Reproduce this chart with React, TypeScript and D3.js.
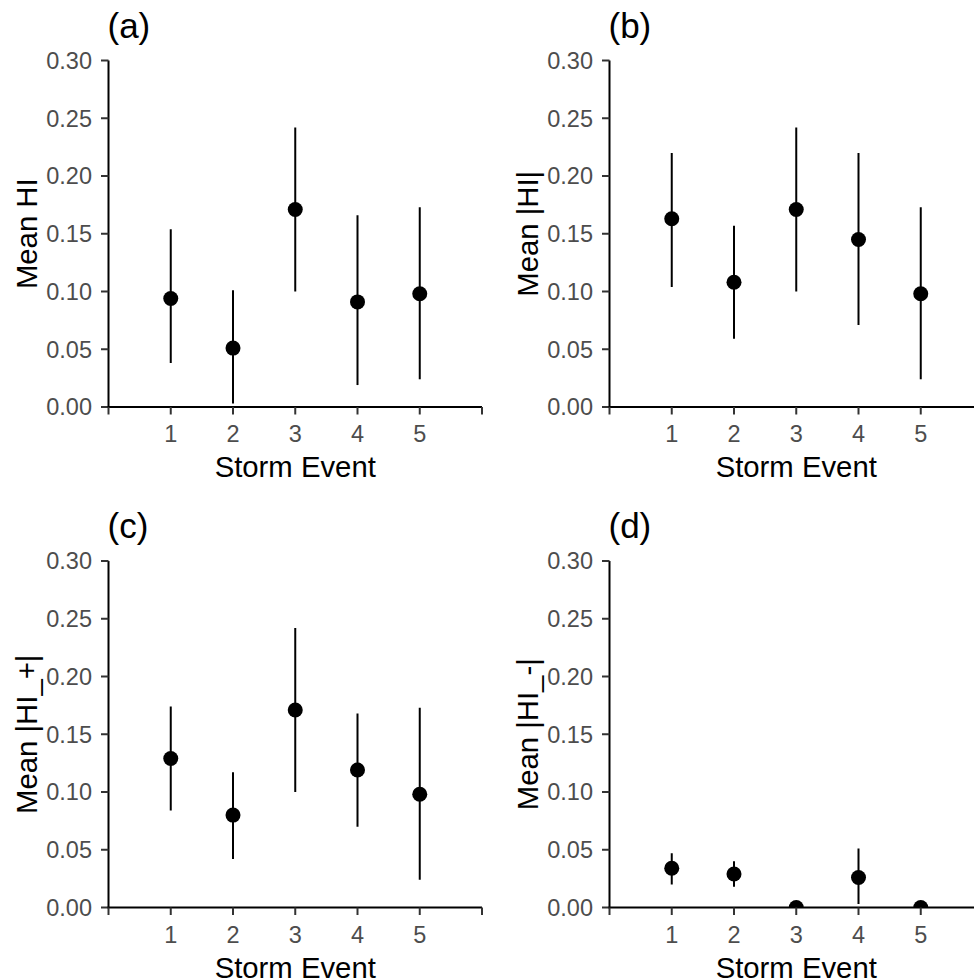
import React from "react";
import * as d3 from "d3";

// Storm events on the x axis
const events = [1, 2, 3, 4, 5];
const xTicks = [0, 1, 2, 3, 4, 5, 6];
const yTicks = [0, 0.05, 0.1, 0.15, 0.2, 0.25, 0.3];

const panelTags = ["(a)", "(b)", "(c)", "(d)"];
const yTitles = ["Mean HI", "Mean |HI|", "Mean |HI_+|", "Mean |HI_-|"];

// (a) Mean HI
const meanHI = [0.094, 0.051, 0.171, 0.091, 0.098];
const lowHI = [0.038, 0.003, 0.1, 0.019, 0.024];
const highHI = [0.154, 0.101, 0.242, 0.166, 0.173];

// (b) Mean |HI|
const meanAbsHI = [0.163, 0.108, 0.171, 0.145, 0.098];
const lowAbsHI = [0.104, 0.059, 0.1, 0.071, 0.024];
const highAbsHI = [0.22, 0.157, 0.242, 0.22, 0.173];

// (c) Mean |HI_+|
const meanPosHI = [0.129, 0.08, 0.171, 0.119, 0.098];
const lowPosHI = [0.084, 0.042, 0.1, 0.07, 0.024];
const highPosHI = [0.174, 0.117, 0.242, 0.168, 0.173];

// (d) Mean |HI_-|
const meanNegHI = [0.034, 0.029, 0.0, 0.026, 0.0];
const lowNegHI = [0.02, 0.018, 0.0, 0.003, 0.0];
const highNegHI = [0.047, 0.04, 0.0, 0.051, 0.0];

const series = [
  { mean: meanHI, low: lowHI, high: highHI },
  { mean: meanAbsHI, low: lowAbsHI, high: highAbsHI },
  { mean: meanPosHI, low: lowPosHI, high: highPosHI },
  { mean: meanNegHI, low: lowNegHI, high: highNegHI },
];

const W = 974;
const H = 978;
const FONT = "'Liberation Sans', Arial, sans-serif";
const panelW = 373.5;
const panelH = 346.5;
const lefts = [108.5, 609.5];
const tops = [60.5, 561];

function Panel({ idx }: { idx: number }) {
  const left = lefts[idx % 2];
  const top = tops[Math.floor(idx / 2)];
  const x = d3.scaleLinear().domain([0, 6]).range([left, left + panelW]);
  const y = d3.scaleLinear().domain([0, 0.3]).range([top + panelH, top]);
  const s = series[idx];
  const clipId = `clip-${idx}`;
  const fmt = d3.format(".2f");
  return (
    <g>
      <clipPath id={clipId}>
        <rect x={left} y={top - 10} width={panelW} height={panelH + 10} />
      </clipPath>
      <text x={left - 1} y={top - 23} fontSize={35} fontFamily={FONT} fill="#000">
        {panelTags[idx]}
      </text>
      <g clipPath={`url(#${clipId})`}>
        {events.map((e, i) => (
          <g key={e}>
            <line
              x1={x(e)}
              x2={x(e)}
              y1={y(s.low[i])}
              y2={y(s.high[i])}
              stroke="#000"
              strokeWidth={2}
            />
            <circle cx={x(e)} cy={y(s.mean[i])} r={7.5} fill="#000" />
          </g>
        ))}
      </g>
      {/* y axis */}
      <line x1={left} x2={left} y1={top} y2={top + panelH} stroke="#000" strokeWidth={2} />
      {yTicks.map((t) => (
        <g key={t}>
          <line x1={left - 7.5} x2={left} y1={y(t)} y2={y(t)} stroke="#333" strokeWidth={2} />
          <text
            x={left - 16.5}
            y={y(t)}
            dy="0.36em"
            textAnchor="end"
            fontSize={23.5}
            fontFamily={FONT}
            fill="#4D4D4D"
          >
            {fmt(t)}
          </text>
        </g>
      ))}
      {/* x axis */}
      <line
        x1={left - 1}
        x2={left + panelW}
        y1={top + panelH}
        y2={top + panelH}
        stroke="#000"
        strokeWidth={2}
      />
      {xTicks.map((t) => (
        <g key={t}>
          <line
            x1={x(t)}
            x2={x(t)}
            y1={top + panelH}
            y2={top + panelH + 7.5}
            stroke="#333"
            strokeWidth={2}
          />
          {t >= 1 && t <= 5 && (
            <text
              x={x(t)}
              y={top + panelH + 35}
              textAnchor="middle"
              fontSize={23.5}
              fontFamily={FONT}
              fill="#4D4D4D"
            >
              {t}
            </text>
          )}
        </g>
      ))}
      <text
        x={(left + left + panelW) / 2}
        y={top + panelH + 70}
        textAnchor="middle"
        fontSize={29.3}
        fontFamily={FONT}
        fill="#000"
      >
        Storm Event
      </text>
      <text
        transform={`translate(${left - 71.5},${top + panelH / 2}) rotate(-90)`}
        textAnchor="middle"
        fontSize={29.3}
        fontFamily={FONT}
        fill="#000"
      >
        {yTitles[idx]}
      </text>
    </g>
  );
}

export default function App() {
  return (
    <svg
      width={W}
      height={H}
      style={{ position: "absolute", left: 0, top: 0, display: "block", background: "#fff" }}
    >
      <rect width={W} height={H} fill="#fff" />
      {[0, 1, 2, 3].map((i) => (
        <Panel key={i} idx={i} />
      ))}
    </svg>
  );
}
